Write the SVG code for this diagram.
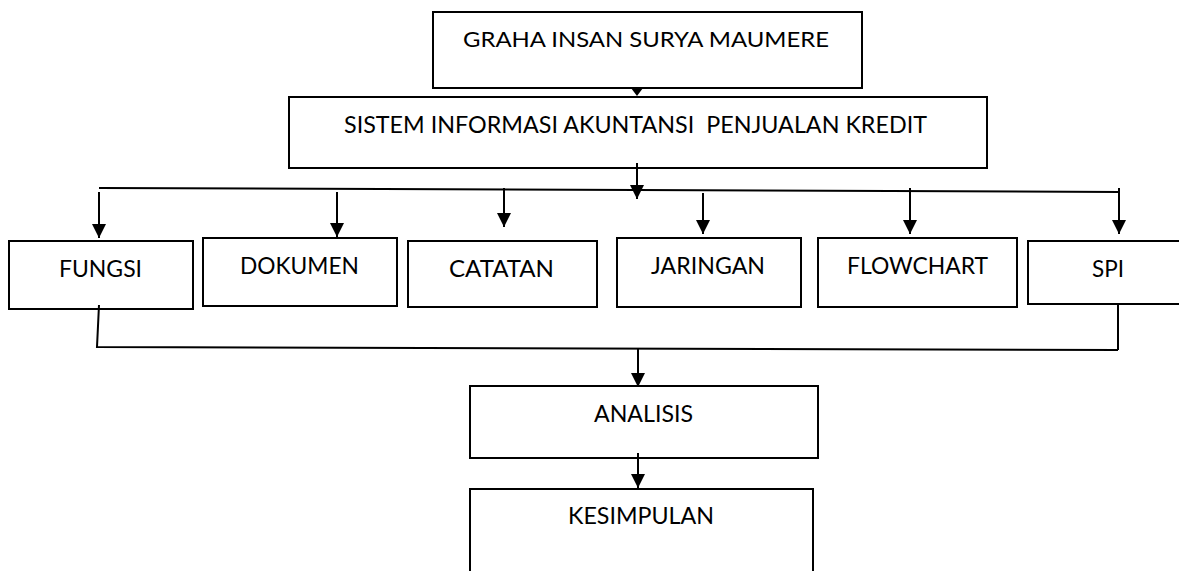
<svg xmlns="http://www.w3.org/2000/svg" width="1179" height="571" viewBox="0 0 1179 571">
<style>
.box{fill:#fff;stroke:#000;stroke-width:2}
.ln{fill:none;stroke:#000;stroke-width:2}
.t{font-family:Lato,"Open Sans","Liberation Sans",sans-serif;font-size:23px;fill:#000;white-space:pre}
</style>
<defs>
<marker id="ah" markerUnits="userSpaceOnUse" markerWidth="14" markerHeight="14" viewBox="0 0 14 14" refX="14" refY="7" orient="auto">
<path d="M0,0 L14,7 L0,14 Z" fill="#000"/>
</marker>
</defs>
<rect width="1179" height="571" fill="#fff"/>
<g id="graha"><rect class="box" x="433" y="12" width="429" height="76"/><text class="t" x="463" y="47" textLength="366" lengthAdjust="spacingAndGlyphs" style="font-size:21px">GRAHA INSAN SURYA MAUMERE</text></g>
<g id="sistem"><rect class="box" x="289" y="97" width="698" height="71"/><text class="t" x="344" y="133" textLength="583" lengthAdjust="spacingAndGlyphs">SISTEM INFORMASI AKUNTANSI  PENJUALAN KREDIT</text></g>
<g id="fungsi"><rect class="box" x="9" y="241" width="184" height="68"/><text class="t" x="59" y="277" textLength="83" lengthAdjust="spacingAndGlyphs">FUNGSI</text></g>
<g id="dokumen"><rect class="box" x="203" y="238" width="194" height="68"/><text class="t" x="240" y="274" textLength="119" lengthAdjust="spacingAndGlyphs">DOKUMEN</text></g>
<g id="catatan"><rect class="box" x="408" y="241" width="189" height="66"/><text class="t" x="449" y="277" textLength="105" lengthAdjust="spacingAndGlyphs">CATATAN</text></g>
<g id="jaringan"><rect class="box" x="617" y="238" width="184" height="69"/><text class="t" x="651" y="274" textLength="114" lengthAdjust="spacingAndGlyphs">JARINGAN</text></g>
<g id="flowchart"><rect class="box" x="818" y="238" width="199" height="69"/><text class="t" x="847" y="274" textLength="141" lengthAdjust="spacingAndGlyphs">FLOWCHART</text></g>
<g id="spi"><rect class="box" x="1028" y="241" width="160" height="63"/><text class="t" x="1092" y="277" textLength="32" lengthAdjust="spacingAndGlyphs">SPI</text></g>
<g id="analisis"><rect class="box" x="470" y="386" width="348" height="72"/><text class="t" x="594" y="422" textLength="99" lengthAdjust="spacingAndGlyphs">ANALISIS</text></g>
<g id="kesimpulan"><path class="ln" d="M470,580 V489 H813 V580"/><text class="t" x="568" y="524" textLength="146" lengthAdjust="spacingAndGlyphs">KESIMPULAN</text></g>
<g id="connectors">
<path d="M631,88 L643,88 L637,96 Z" fill="#000"/>
<path class="ln" d="M99,188 L1120,192"/>
<path class="ln" d="M637,163 V199" marker-end="url(#ah)"/>
<path class="ln" d="M99,192 V238" marker-end="url(#ah)"/>
<path class="ln" d="M337,192 V237" marker-end="url(#ah)"/>
<path class="ln" d="M504,188 V227" marker-end="url(#ah)"/>
<path class="ln" d="M703,193 V234" marker-end="url(#ah)"/>
<path class="ln" d="M910,188 V234" marker-end="url(#ah)"/>
<path class="ln" d="M1119,188 V234" marker-end="url(#ah)"/>
<path class="ln" d="M99,305 L97,347 L1118,350"/>
<path class="ln" d="M1118,304 V350"/>
<path class="ln" d="M638,349 V387" marker-end="url(#ah)"/>
<path class="ln" d="M638,453 V488" marker-end="url(#ah)"/>
</g>
</svg>
